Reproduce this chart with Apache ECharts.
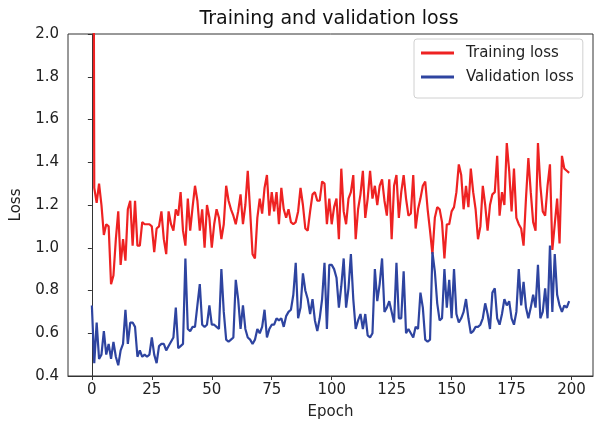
<!DOCTYPE html>
<html>
<head>
<meta charset="utf-8">
<script src="https://cdn.jsdelivr.net/npm/echarts@6/dist/echarts.min.js"></script>
<style>
html,body{margin:0;padding:0;background:#fff;}
#chart{width:596px;height:426px;}
</style>
</head>
<body>
<div id="chart"></div>
<script>
const titleText = 'Training and validation loss';
const seriesNames = ['Training loss', 'Validation loss'];
const xTicks = [0, 25, 50, 75, 100, 125, 150, 175, 200];

const trainLoss = [
  6.0, 1.28, 1.21, 1.30, 1.20, 1.06, 1.11, 1.10, 0.83, 0.87,
  1.04, 1.17, 0.92, 1.04, 0.94, 1.18, 1.22, 1.01, 1.22, 1.01,
  1.01, 1.12, 1.11, 1.11, 1.11, 1.10, 0.98, 1.09, 1.10, 1.17,
  1.04, 0.97, 1.17, 1.11, 1.08, 1.18, 1.15, 1.26, 1.08, 1.01,
  1.23, 1.08, 1.19, 1.29, 1.22, 1.08, 1.18, 1.00, 1.20, 1.14,
  1.00, 1.11, 1.18, 1.14, 1.04, 1.11, 1.29, 1.22, 1.18, 1.15,
  1.11, 1.17, 1.25, 1.11, 1.20, 1.36, 1.17, 0.97, 0.95, 1.14,
  1.23, 1.16, 1.28, 1.34, 1.15, 1.26, 1.17, 1.26, 1.11, 1.28,
  1.18, 1.14, 1.18, 1.12, 1.11, 1.12, 1.17, 1.28, 1.20, 1.09,
  1.08, 1.17, 1.25, 1.26, 1.22, 1.22, 1.31, 1.30, 1.11, 1.23,
  1.11, 1.19, 1.23, 1.04, 1.37, 1.17, 1.11, 1.23, 1.26, 1.34,
  1.04, 1.18, 1.25, 1.36, 1.14, 1.23, 1.36, 1.23, 1.29, 1.20,
  1.29, 1.32, 1.22, 1.15, 1.32, 1.04, 1.29, 1.34, 1.14, 1.26,
  1.34, 1.23, 1.15, 1.16, 1.34, 1.09, 1.18, 1.23, 1.29, 1.31,
  1.18, 1.08, 0.97, 1.14, 1.19, 1.18, 1.12, 0.95, 1.11, 1.11,
  1.17, 1.19, 1.26, 1.39, 1.34, 1.18, 1.29, 1.19, 1.37, 1.26,
  1.18, 1.04, 1.10, 1.29, 1.20, 1.08, 1.20, 1.25, 1.26, 1.43,
  1.15, 1.26, 1.20, 1.49, 1.36, 1.17, 1.37, 1.14, 1.11, 1.09,
  1.01, 1.23, 1.42, 1.26, 1.12, 1.08, 1.49, 1.29, 1.17, 1.15,
  1.29, 1.39, 0.99, 1.11, 1.23, 1.02, 1.43, 1.37, 1.36, 1.35
];

const valLoss = [
  0.73, 0.46, 0.65, 0.48, 0.50, 0.61, 0.50, 0.55, 0.48, 0.56,
  0.49, 0.45, 0.52, 0.55, 0.71, 0.55, 0.65, 0.65, 0.63, 0.49,
  0.52, 0.49, 0.50, 0.49, 0.50, 0.58, 0.50, 0.46, 0.54, 0.55,
  0.55, 0.52, 0.54, 0.56, 0.58, 0.72, 0.53, 0.54, 0.55, 0.95,
  0.62, 0.61, 0.63, 0.63, 0.73, 0.83, 0.64, 0.63, 0.64, 0.73,
  0.64, 0.64, 0.63, 0.62, 0.90, 0.70, 0.57, 0.56, 0.57, 0.58,
  0.85, 0.76, 0.62, 0.73, 0.62, 0.58, 0.57, 0.55, 0.57, 0.62,
  0.60, 0.63, 0.71, 0.58, 0.62, 0.64, 0.64, 0.67, 0.66, 0.67,
  0.63, 0.68, 0.70, 0.71, 0.78, 0.93, 0.67, 0.72, 0.88, 0.80,
  0.76, 0.69, 0.76, 0.66, 0.61, 0.67, 0.76, 0.93, 0.62, 0.92,
  0.92, 0.90, 0.86, 0.72, 0.82, 0.95, 0.72, 0.81, 0.97, 0.76,
  0.62, 0.66, 0.69, 0.62, 0.69, 0.59, 0.58, 0.60, 0.90, 0.75,
  0.83, 0.95, 0.70, 0.72, 0.75, 0.70, 0.65, 0.93, 0.67, 0.67,
  0.89, 0.60, 0.62, 0.60, 0.58, 0.63, 0.62, 0.79, 0.72, 0.57,
  0.56, 0.57, 0.98, 0.89, 0.74, 0.66, 0.67, 0.90, 0.72, 0.85,
  0.67, 0.90, 0.69, 0.65, 0.67, 0.70, 0.76, 0.67, 0.60, 0.61,
  0.63, 0.63, 0.64, 0.67, 0.74, 0.69, 0.62, 0.79, 0.81, 0.67,
  0.64, 0.69, 0.76, 0.73, 0.75, 0.67, 0.64, 0.70, 0.90, 0.73,
  0.84, 0.72, 0.67, 0.72, 0.78, 0.72, 0.92, 0.67, 0.70, 0.81,
  0.67, 1.01, 0.70, 0.97, 0.78, 0.73, 0.70, 0.73, 0.72, 0.75
];

const epochs = trainLoss.map((_, i) => i);

const FONT = 'DejaVu Sans';
const chart = echarts.init(document.getElementById('chart'), null, {renderer: 'canvas'});

chart.setOption({
  animation: false,
  backgroundColor: '#fff',
  textStyle: {fontFamily: FONT},
  title: {
    text: titleText,
    left: 324,
    textAlign: 'center',
    top: 5,
    textStyle: {fontFamily: FONT, fontSize: 19, fontWeight: 'normal', color: '#111'}
  },
  grid: {
    left: 68, right: 3, top: 34, bottom: 50,
    show: true, borderColor: '#333', borderWidth: 1, backgroundColor: 'transparent'
  },
  legend: {
    orient: 'vertical',
    left: 414,
    top: 39,
    padding: [5, 9, 12, 7],
    itemGap: 6,
    itemWidth: 33,
    itemHeight: 3,
    icon: 'rect',
    borderColor: '#d0d0d0',
    borderWidth: 1,
    borderRadius: 3,
    backgroundColor: '#fff',
    textStyle: {fontFamily: FONT, fontSize: 15, color: '#222', lineHeight: 18, padding: [0, 0, 0, 7]},
    data: seriesNames
  },
  xAxis: {
    type: 'value',
    min: -9.95,
    max: 208.95,
    name: 'Epoch',
    nameLocation: 'middle',
    nameGap: 29,
    nameTextStyle: {fontFamily: FONT, fontSize: 15, color: '#222'},
    axisLine: {show: true, lineStyle: {color: '#333'}},
    axisTick: {show: true, length: 4, customValues: xTicks, lineStyle: {color: '#333'}},
    axisLabel: {customValues: xTicks, margin: 7, fontFamily: FONT, fontSize: 15, color: '#222'},
    splitLine: {show: false}
  },
  yAxis: {
    type: 'value',
    min: 0.4,
    max: 2.0,
    interval: 0.2,
    name: 'Loss',
    nameLocation: 'middle',
    nameGap: 44,
    nameTextStyle: {fontFamily: FONT, fontSize: 15, color: '#222'},
    axisLine: {show: true, lineStyle: {color: '#333'}},
    axisTick: {show: true, length: 4, lineStyle: {color: '#333'}},
    axisLabel: {margin: 9, fontFamily: FONT, fontSize: 15, color: '#222', formatter: v => v.toFixed(1)},
    splitLine: {show: false}
  },
  series: [
    {
      name: seriesNames[0],
      type: 'line',
      showSymbol: false,
      symbol: 'none',
      clip: true,
      color: '#ee2222',
      lineStyle: {width: 2.2, color: '#ee2222'},
      data: epochs.map(i => [i, trainLoss[i]])
    },
    {
      name: seriesNames[1],
      type: 'line',
      showSymbol: false,
      symbol: 'none',
      clip: true,
      color: '#2e44a0',
      lineStyle: {width: 2.2, color: '#2e44a0'},
      data: epochs.map(i => [i, valLoss[i]])
    }
  ]
});
</script>
</body>
</html>
